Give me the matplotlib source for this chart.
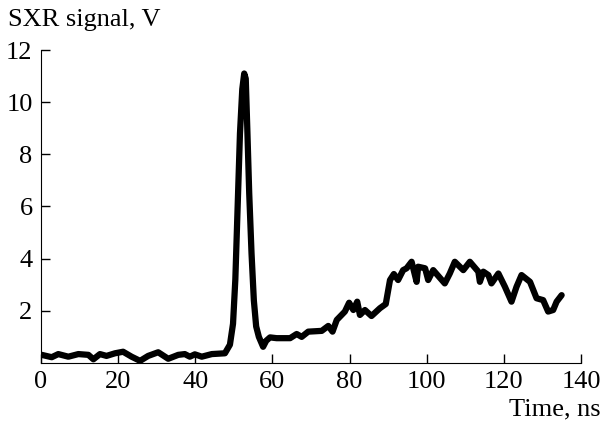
import matplotlib
matplotlib.use("Agg")
import matplotlib.pyplot as plt

plt.rcParams['font.family'] = ['Liberation Serif', 'DejaVu Serif']

# signal (time in ns, signal in V)
time_ns = [0.2, 2.8, 4.5, 7.1, 9.7, 12.3, 13.6, 15.3, 17.0, 19.2, 21.3, 23.5,
           25.7, 27.8, 30.4, 33.0, 35.6, 37.3, 38.6, 39.9, 41.7, 44.3, 47.7,
           49.0, 49.8, 50.4, 51.0, 51.6, 52.2, 52.7, 53.1, 53.5, 54.0, 54.6,
           55.2, 55.8, 56.5, 57.6, 58.4, 59.4, 61.1, 64.6, 66.3, 67.6, 69.3,
           72.8, 74.5, 75.6, 76.7, 78.8, 79.9, 81.0, 82.0, 82.7, 84.0, 85.7,
           87.9, 89.4, 90.5, 91.5, 92.6, 93.9, 94.8, 96.1, 97.4, 97.8, 99.6,
           100.4, 101.7, 104.7, 106.0, 107.3, 109.5, 111.2, 113.4, 113.8,
           114.7, 116.0, 116.8, 118.6, 120.3, 122.0, 123.3, 124.6, 126.8,
           128.5, 130.2, 131.5, 132.8, 133.7, 135.0]
signal_v = [0.31, 0.22, 0.34, 0.24, 0.34, 0.31, 0.14, 0.34, 0.27, 0.37, 0.43, 0.24,
            0.08, 0.27, 0.41, 0.16, 0.31, 0.34, 0.24, 0.33, 0.24, 0.34, 0.37,
            0.7, 1.5, 3.2, 6.0, 8.8, 10.5, 11.1, 10.9, 9.0, 6.5, 4.2,
            2.4, 1.4, 1.0, 0.62, 0.85, 0.98, 0.95, 0.95, 1.11, 1.0, 1.2,
            1.23, 1.42, 1.2, 1.65, 1.97, 2.31, 2.03, 2.35, 1.84, 2.03, 1.8,
            2.1, 2.26, 3.18, 3.41, 3.18, 3.56, 3.63, 3.88, 3.11, 3.69, 3.63,
            3.18, 3.56, 3.05, 3.43, 3.88, 3.56, 3.88, 3.5, 3.11,
            3.5, 3.37, 3.05, 3.43, 2.92, 2.35, 2.92, 3.37, 3.11,
            2.48, 2.41, 1.97, 2.03, 2.35, 2.6]

x_ticks = [0, 20, 40, 60, 80, 100, 120, 140]
y_ticks = [2, 4, 6, 8, 10, 12]

fig = plt.figure(figsize=(6.02, 4.24), dpi=100)
ax = fig.add_axes([0.068, 0.144, 0.897, 0.738])

ax.plot(time_ns, signal_v, color='black', lw=4.5, solid_joinstyle='round',
        solid_capstyle='round')

ax.set_xlim(0, 140)
ax.set_ylim(0, 12)
ax.set_xticks(x_ticks)
ax.set_yticks(y_ticks)
ax.spines['top'].set_visible(False)
ax.spines['right'].set_visible(False)
ax.tick_params(direction='in', length=6.5, width=1, labelsize=19, pad=6)
ax.tick_params(axis='y', pad=6)

fig.text(0.013, 0.938, 'SXR signal, V', fontsize=19, ha='left', va='baseline')
fig.text(0.997, 0.019, 'Time, ns', fontsize=19, ha='right', va='baseline')

fig.savefig('out.png', dpi=100)
